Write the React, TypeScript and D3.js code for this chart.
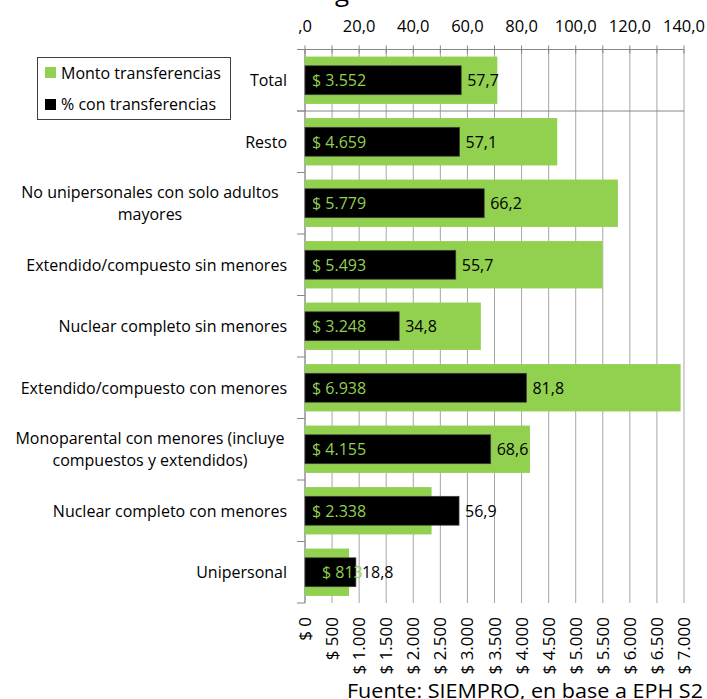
import React from "react";
import * as d3 from "d3";

const categories = [
  "Total",
  "Resto",
  "No unipersonales con solo adultos|mayores",
  "Extendido/compuesto sin menores",
  "Nuclear completo sin menores",
  "Extendido/compuesto con menores",
  "Monoparental con menores (incluye|compuestos y extendidos)",
  "Nuclear completo con menores",
  "Unipersonal",
];
const monto = [3552, 4659, 5779, 5493, 3248, 6938, 4155, 2338, 813];
const pct = [57.7, 57.1, 66.2, 55.7, 34.8, 81.8, 68.6, 56.9, 18.8];
const pctTicks = [0, 20, 40, 60, 80, 100, 120, 140];
const montoTicks = d3.range(0, 7001, 500);

const GREEN = "#92D050";
const GRID = "#a6a6a6";
const AXIS = "#868686";
const FONT = "'Open Sans', sans-serif";

const W = 707;
const H = 699;
const left = 305;
const right = 684;
const top = 49.5;
const bottom = 603;

const fmtPct = (v: number) => (v === 0 ? ",0" : v.toFixed(1).replace(".", ","));
const fmtMonto = (v: number) => "$ " + d3.format(",")(v).replace(/,/g, ".");

export default function App() {
  const xM = d3.scaleLinear().domain([0, 7000]).range([left, right]);
  const xP = d3.scaleLinear().domain([0, 140]).range([left, right]);
  const y = d3.scaleBand<number>().domain(d3.range(categories.length)).range([top, bottom]).padding(0);
  const bw = y.bandwidth();
  const gH = bw * 0.77;
  const bH = bw * 0.47;
  const minorPct = d3.range(0, 141, 10);

  return (
    <svg width={W} height={H} style={{ position: "absolute", left: 0, top: 0 }} fontFamily={FONT}>
      <rect width={W} height={H} fill="#fff" />
      {/* cropped title */}
      <text x={335} y={1} fontSize={26} fill="#000">g</text>

      {/* gridlines */}
      {montoTicks.map((t) => (
        <line key={t} x1={xM(t)} x2={xM(t)} y1={top} y2={bottom} stroke={GRID} strokeWidth={1} />
      ))}

      {/* top axis */}
      <line x1={297} x2={right} y1={top} y2={top} stroke={AXIS} />
      {minorPct.map((t) => (
        <line key={t} x1={xP(t)} x2={xP(t)} y1={top - 4} y2={top + 4} stroke={AXIS} />
      ))}
      {pctTicks.map((t) => (
        <text key={t} x={xP(t)} y={32} fontSize={16.5} textAnchor="middle" fill="#000">{fmtPct(t)}</text>
      ))}

      {/* separator after Total */}
      <line x1={297} x2={right} y1={(y(1) as number)} y2={(y(1) as number)} stroke={AXIS} />

      {/* left axis */}
      <line x1={left} x2={left} y1={top} y2={bottom} stroke={AXIS} />
      {d3.range(categories.length + 1).map((i) => (
        <line key={i} x1={297} x2={left} y1={top + i * bw} y2={top + i * bw} stroke={AXIS} />
      ))}

      {/* bars */}
      {categories.map((c, i) => {
        const cy = (y(i) as number) + bw / 2;
        const gw = xM(monto[i]) - xM(0);
        return (
          <g key={c}>
            <rect x={xM(0)} y={cy - gH / 2} width={gw} height={gH} fill={GREEN} />
            <rect x={xP(0)} y={cy - bH / 2} width={xP(pct[i]) - xP(0)} height={bH} fill="#000" stroke="#404040" strokeWidth={0.7} />
            <text x={xM(0) + (gw > 60 ? 7 : 17)} y={cy + 6} fontSize={16} fill={GREEN}>{fmtMonto(monto[i])}</text>
            <text x={xP(pct[i]) + 6} y={cy + 6} fontSize={16} fill="#000">{fmtPct(pct[i])}</text>
          </g>
        );
      })}

      {/* category labels: single lines right-aligned, wrapped ones centred */}
      {categories.map((c, i) => {
        const cy = (y(i) as number) + bw / 2;
        const lines = c.split("|");
        if (lines.length === 1) {
          return (
            <text key={c} x={287} y={cy + 6} fontSize={16} textAnchor="end" fill="#000">{lines[0]}</text>
          );
        }
        return (
          <g key={c}>
            <text x={150} y={cy + 6 - 11} fontSize={16} textAnchor="middle" fill="#000">{lines[0]}</text>
            <text x={150} y={cy + 6 + 11} fontSize={16} textAnchor="middle" fill="#000">{lines[1]}</text>
          </g>
        );
      })}

      {/* bottom axis labels */}
      {montoTicks.map((t) => (
        <text key={t} transform={`translate(${xM(t) + 6},617) rotate(-90)`} fontSize={17} textAnchor="end" fill="#000">{fmtMonto(t)}</text>
      ))}

      {/* legend */}
      <rect x={37.5} y={57.5} width={193} height={62} fill="#fff" stroke="#404040" />
      <rect x={45} y={67} width={11} height={11} fill={GREEN} />
      <text x={61} y={79} fontSize={16} fill="#000">Monto transferencias</text>
      <rect x={45} y={99} width={11} height={11} fill="#000" />
      <text x={61} y={110} fontSize={16} fill="#000">% con transferencias</text>

      {/* source */}
      <text x={347} y={698} fontSize={20} fill="#000" textLength={356} lengthAdjust="spacingAndGlyphs">Fuente: SIEMPRO, en base a EPH S2</text>
    </svg>
  );
}
